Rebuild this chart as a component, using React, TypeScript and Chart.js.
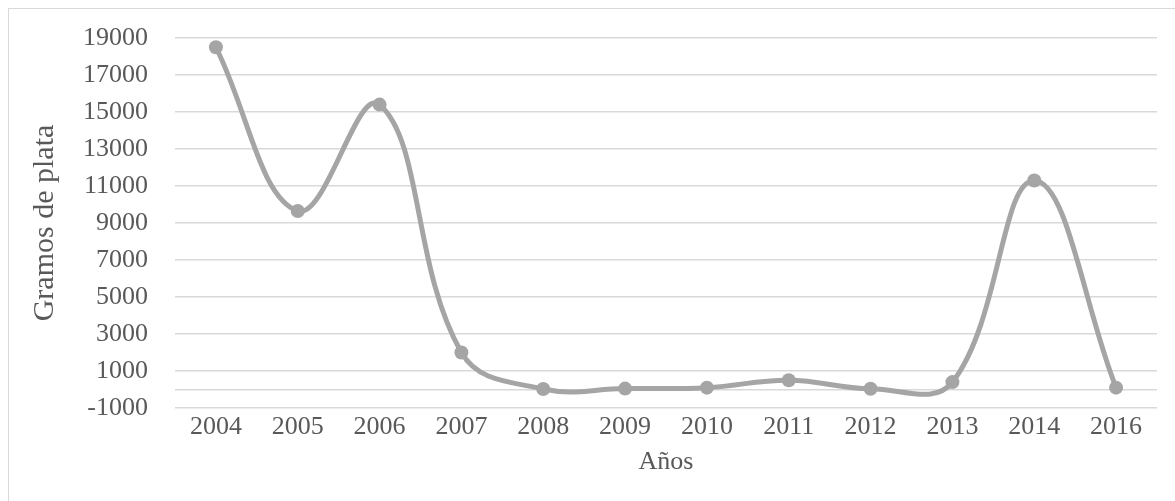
import React, { useEffect, useRef } from "react";
import { Chart, registerables } from "chart.js";

Chart.register(...registerables);

const categories = ["2004", "2005", "2006", "2007", "2008", "2009", "2010", "2011", "2012", "2013", "2014", "2016"];
const silverGrams = [18500, 9650, 15400, 2000, 30, 50, 100, 500, 40, 400, 11300, 100];
const yTicks = [-1000, 0, 1000, 3000, 5000, 7000, 9000, 11000, 13000, 15000, 17000, 19000];

const FONT = "'Liberation Serif', 'Times New Roman', serif";
const TEXT = "#595959";
const GRID = "#d9d9d9";
const LINE = "#a5a5a5";

export default function App() {
  const ref = useRef<HTMLCanvasElement | null>(null);
  useEffect(() => {
    if (!ref.current) return;
    const chart = new Chart(ref.current, {
      type: "line",
      data: {
        labels: categories,
        datasets: [
          {
            data: silverGrams,
            borderColor: LINE,
            backgroundColor: LINE,
            borderWidth: 5,
            pointRadius: 7,
            pointBorderWidth: 0,
            pointBackgroundColor: LINE,
            tension: 0.4,
            fill: false,
          },
        ],
      },
      options: {
        animation: false,
        responsive: false,
        maintainAspectRatio: false,
        layout: { padding: { top: 29, right: 18, left: 0, bottom: 0 } },
        plugins: { legend: { display: false }, tooltip: { enabled: false } },
        scales: {
          x: {
            offset: true,
            grid: { display: false, drawTicks: false, offset: true },
            border: { display: false },
            ticks: { color: TEXT, font: { family: FONT, size: 26 }, padding: 4, maxRotation: 0, autoSkip: false },
            title: { display: true, text: "Años", color: TEXT, font: { family: FONT, size: 26 }, padding: { top: 0, bottom: 23 } },
            afterFit: (s: any) => { s.height = 93; s.paddingLeft = 0; s.paddingRight = 0; },
          },
          y: {
            min: -1000,
            max: 19000,
            grid: { color: GRID, lineWidth: 1.5, drawTicks: false },
            border: { display: false },
            afterBuildTicks: (s: any) => { s.ticks = yTicks.map((v) => ({ value: v })); },
            ticks: {
              color: TEXT,
              font: { family: FONT, size: 26 },
              padding: 27,
              autoSkip: false,
              callback: (v: any) => (v === 0 ? "" : String(v)),
            },
            title: { display: true, text: "Gramos de plata", color: TEXT, font: { family: FONT, size: 30 }, padding: { top: 18, bottom: 0 } },
            afterFit: (s: any) => { s.width = 166; s.paddingTop = 0; s.paddingBottom = 0; },
          },
        },
      },
    });
    return () => chart.destroy();
  }, []);
  return (
    <div
      style={{
        position: "absolute",
        left: 8,
        top: 8,
        width: 1167,
        height: 493,
        borderLeft: "1px solid #d9d9d9",
        borderTop: "1px solid #d9d9d9",
        background: "#fff",
      }}
    >
      <canvas ref={ref} width={1166} height={492} style={{ display: "block" }} />
    </div>
  );
}
